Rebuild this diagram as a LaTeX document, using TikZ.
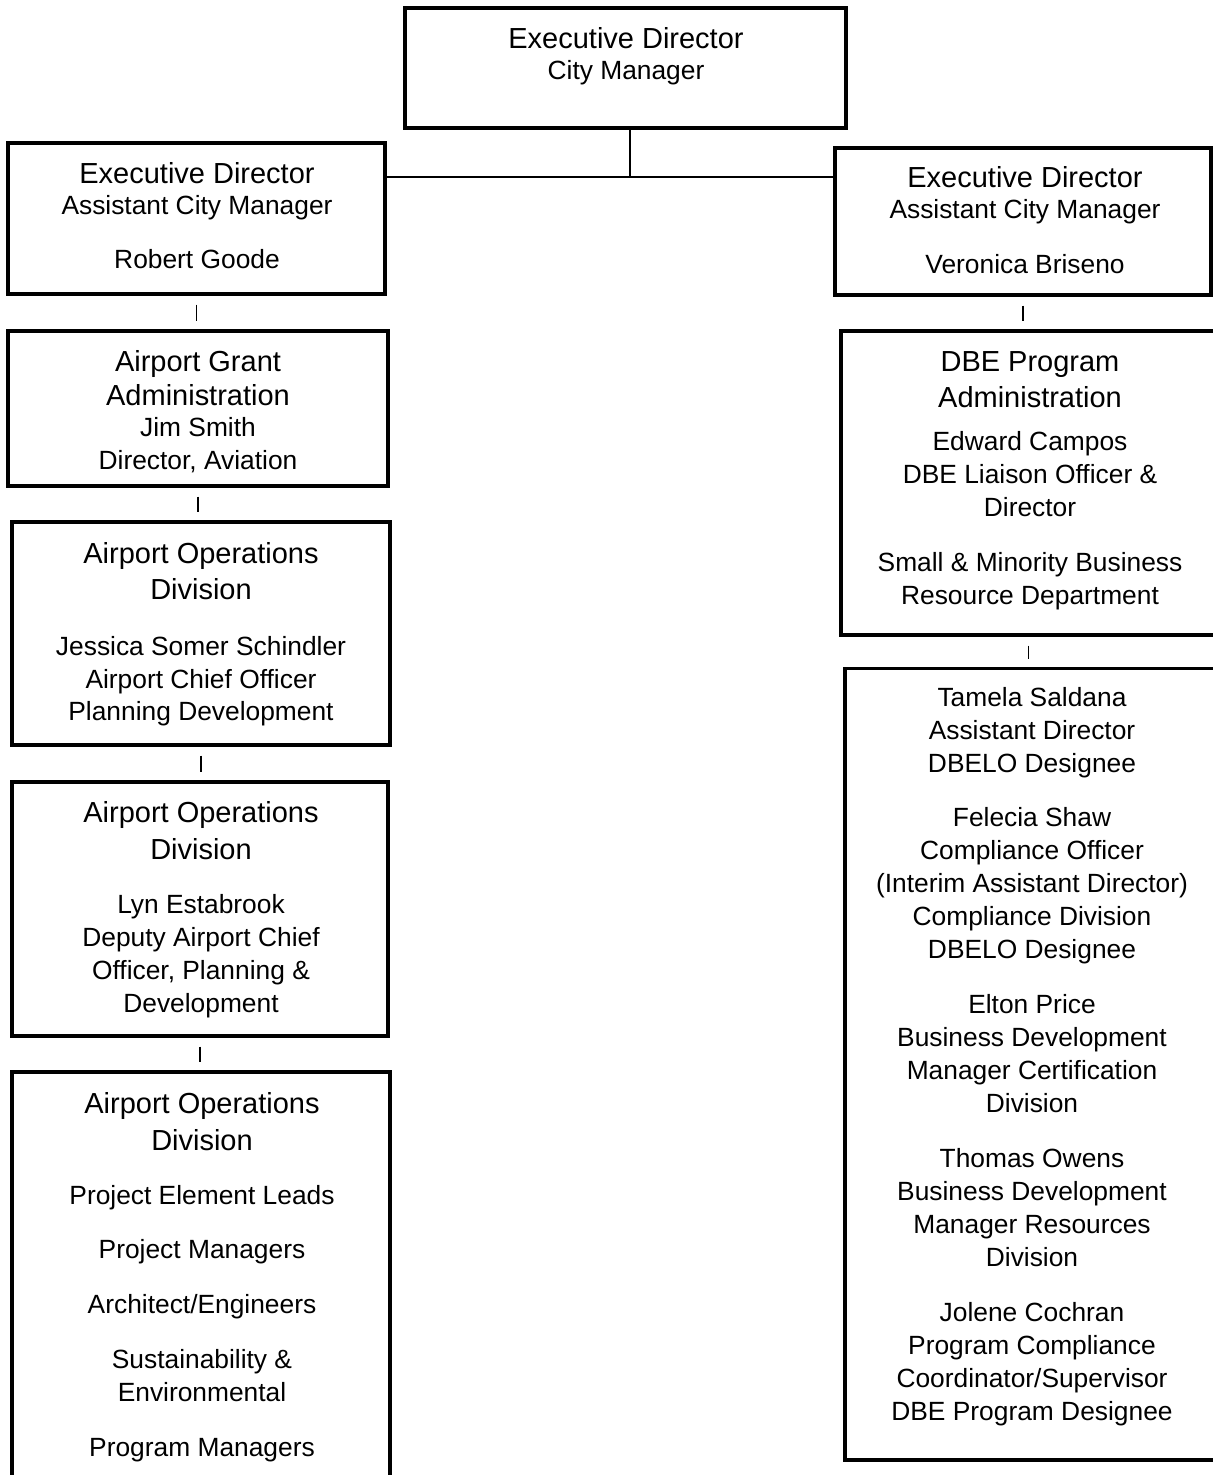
\documentclass[tikz,border=0pt]{standalone}
\usepackage{fontspec}
\setmainfont{Liberation Sans}
\usepackage{tikz}

\newcommand{\bigline}{\fontsize{16.5}{18.8}\selectfont}

\begin{document}
\begin{tikzpicture}[x=0.02cm, y=-0.02cm,
		box/.style={draw, line width=1.8pt, inner sep=0pt},
		txt/.style={anchor=north, align=center, inner sep=0pt, font=\fontsize{15}{18.8}\selectfont},
		link/.style={line width=0.8pt},
		stub/.style={line width=0.7pt, shorten <=0.18cm, shorten >=0.16cm}]
		\useasboundingbox (0,0) rectangle (1213,1475);

		\node[box, minimum width=8.82cm, minimum height=2.40cm] (top) at (625.5,68) {};
		\node[txt] (top-t) at (626,27) {{\bigline Executive Director}\\[-1.1pt] City Manager};

		\node[box, minimum width=7.54cm, minimum height=3.02cm] (lb1) at (196.5,218.5) {};
		\node[txt] (lb1-t) at (197,162) {{\bigline Executive Director}\\[-1.1pt] Assistant City Manager\\[12.2pt] Robert Goode};

		\node[box, minimum width=7.52cm, minimum height=2.94cm] (rb1) at (1023,221.5) {};
		\node[txt] (rb1-t) at (1025,166) {{\bigline Executive Director}\\[-1.1pt] Assistant City Manager\\[12.5pt] Veronica Briseno};

		\coordinate (jn) at (630,177);
		\draw[link] (top.south -| jn) -- (jn);
		\draw[link] (lb1.east |- jn) -- (rb1.west |- jn);

		\node[box, minimum width=7.60cm, minimum height=3.10cm] (lb2) at (198,408.5) {};
		\node[txt] (lb2-t) at (198,350) {{\bigline Airport Grant}\\[0.6pt] {\bigline Administration}\\[-1.1pt] Jim Smith\\ Director, Aviation};

		\node[box, minimum width=7.56cm, minimum height=4.46cm] (lb3) at (201,633.5) {};
		\node[txt] (lb3-t) at (201,542) {{\bigline Airport Operations}\\[1.6pt] {\bigline Division}\\[13.4pt] Jessica Somer Schindler\\ Airport Chief Officer\\[-0.6pt] Planning Development};

		\node[box, minimum width=7.52cm, minimum height=5.08cm] (lb4) at (200,909) {};
		\node[txt] (lb4-t) at (201,801) {{\bigline Airport Operations}\\[2.2pt] {\bigline Division}\\[12pt] Lyn Estabrook\\ Deputy Airport Chief\\ Officer, Planning \&\\ Development};

		\node[box, minimum width=7.56cm, minimum height=8.56cm] (lb5) at (201,1286) {};
		\node[txt] (lb5-t) at (202,1092) {{\bigline Airport Operations}\\[2.2pt] {\bigline Division}\\[11.8pt] Project Element Leads\\[12.4pt] Project Managers\\[12.4pt] Architect/Engineers\\[12.4pt] Sustainability \&\\ Environmental\\[12.4pt] Program Managers};

		\node[box, minimum width=7.50cm, minimum height=6.08cm] (rb2) at (1028.5,483) {};
		\node[txt] (rb2-t) at (1030,351) {{\bigline DBE Program}\\[1.6pt] {\bigline Administration}\\[6pt] Edward Campos\\ DBE Liaison Officer \&\\ Director\\[12.4pt] Small \& Minority Business\\ Resource Department};

		\node[box, minimum width=7.46cm, minimum height=15.84cm] (rb3) at (1031.5,1064) {};
		\node[txt] (rb3-t) at (1032,687) {Tamela Saldana\\ Assistant Director\\ DBELO Designee\\[12pt] Felecia Shaw\\ Compliance Officer\\ (Interim Assistant Director)\\ Compliance Division\\ DBELO Designee\\[12.5pt] Elton Price\\ Business Development\\ Manager Certification\\ Division\\[12.5pt] Thomas Owens\\ Business Development\\ Manager Resources\\ Division\\[12pt] Jolene Cochran\\ Program Compliance\\ Coordinator/Supervisor\\ DBE Program Designee};

		\foreach \a/\b in {lb1/lb2, lb2/lb3, lb3/lb4, lb4/lb5, rb1/rb2, rb2/rb3}{
			\draw[stub] (\a.south) -- (\a.south |- \b.north);
		}
	\end{tikzpicture}
\end{document}
